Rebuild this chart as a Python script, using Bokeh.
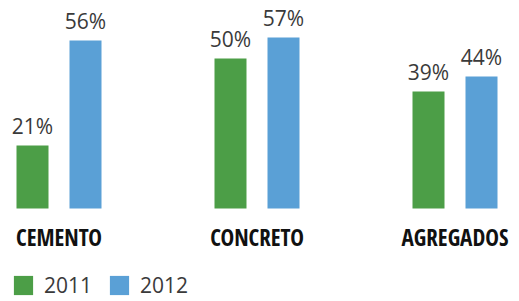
from bokeh.plotting import figure
from bokeh.models import ColumnDataSource, FactorRange, Range1d, Legend, LegendItem
from bokeh.transform import dodge
from bokeh.core.properties import value
from bokeh.embed import file_html
from bokeh.resources import INLINE

categories = ["CEMENTO", "CONCRETO", "AGREGADOS"]
series_names = ["2011", "2012"]
values_2011 = [21, 50, 39]
values_2012 = [56, 57, 44]

GREEN = "#4c9e47"
BLUE = "#5aa0d6"
TEXT = "#3a3a3a"

src = ColumnDataSource(dict(
    cat=categories,
    zero=[0] * len(categories),
    v2011=values_2011,
    v2012=values_2012,
    t2011=[f"{v}%" for v in values_2011],
    t2012=[f"{v}%" for v in values_2012],
))

x_range = FactorRange(*categories, range_padding=0.085, range_padding_units="absolute",
                      factor_padding=0.98)
p = figure(width=519, height=301, x_range=x_range, y_range=Range1d(-31, 69.33),
           output_backend="svg", toolbar_location=None,
           min_border_left=0, min_border_right=6, min_border_top=0, min_border_bottom=0)
p.outline_line_color = None
p.xgrid.visible = False
p.ygrid.visible = False
p.xaxis.visible = False
p.yaxis.visible = False
p.background_fill_color = "white"

off = 0.265
bw = 0.32
r1 = p.vbar(x=dodge("cat", -off, range=p.x_range), top="v2011", bottom="zero", width=bw,
            source=src, fill_color=GREEN, line_color=None)
r2 = p.vbar(x=dodge("cat", off, range=p.x_range), top="v2012", bottom="zero", width=bw,
            source=src, fill_color=BLUE, line_color=None)

for col, o in (("2011", -off), ("2012", off)):
    p.text(x=dodge("cat", o, range=p.x_range), y="v" + col, text="t" + col, source=src,
           text_align="center", text_baseline="bottom", y_offset=-5,
           text_font=value("Open Sans"), text_font_size="21px", text_color=TEXT)

# category labels under the groups
p.text(x="cat", y="zero", text="cat", source=src, text_align="center",
       text_baseline="top", y_offset=13,
       text_font=value("Open Sans Condensed, Noto Sans ExtraCondensed, Noto Sans Condensed, DejaVu Sans Condensed, Roboto"),
       text_font_size="23px", text_color="#111111")

legend = Legend(items=[LegendItem(label=series_names[0], renderers=[r1]),
                       LegendItem(label=series_names[1], renderers=[r2])],
                location=(11, 2), orientation="horizontal",
                glyph_width=24, glyph_height=24, label_standoff=9, spacing=15,
                padding=0, margin=0, border_line_color=None, background_fill_alpha=0,
                label_text_font="Open Sans", label_text_font_size="21px",
                label_text_color=TEXT, label_height=24)
p.add_layout(legend, "center")

open("out.html", "w").write(file_html(p, INLINE))
